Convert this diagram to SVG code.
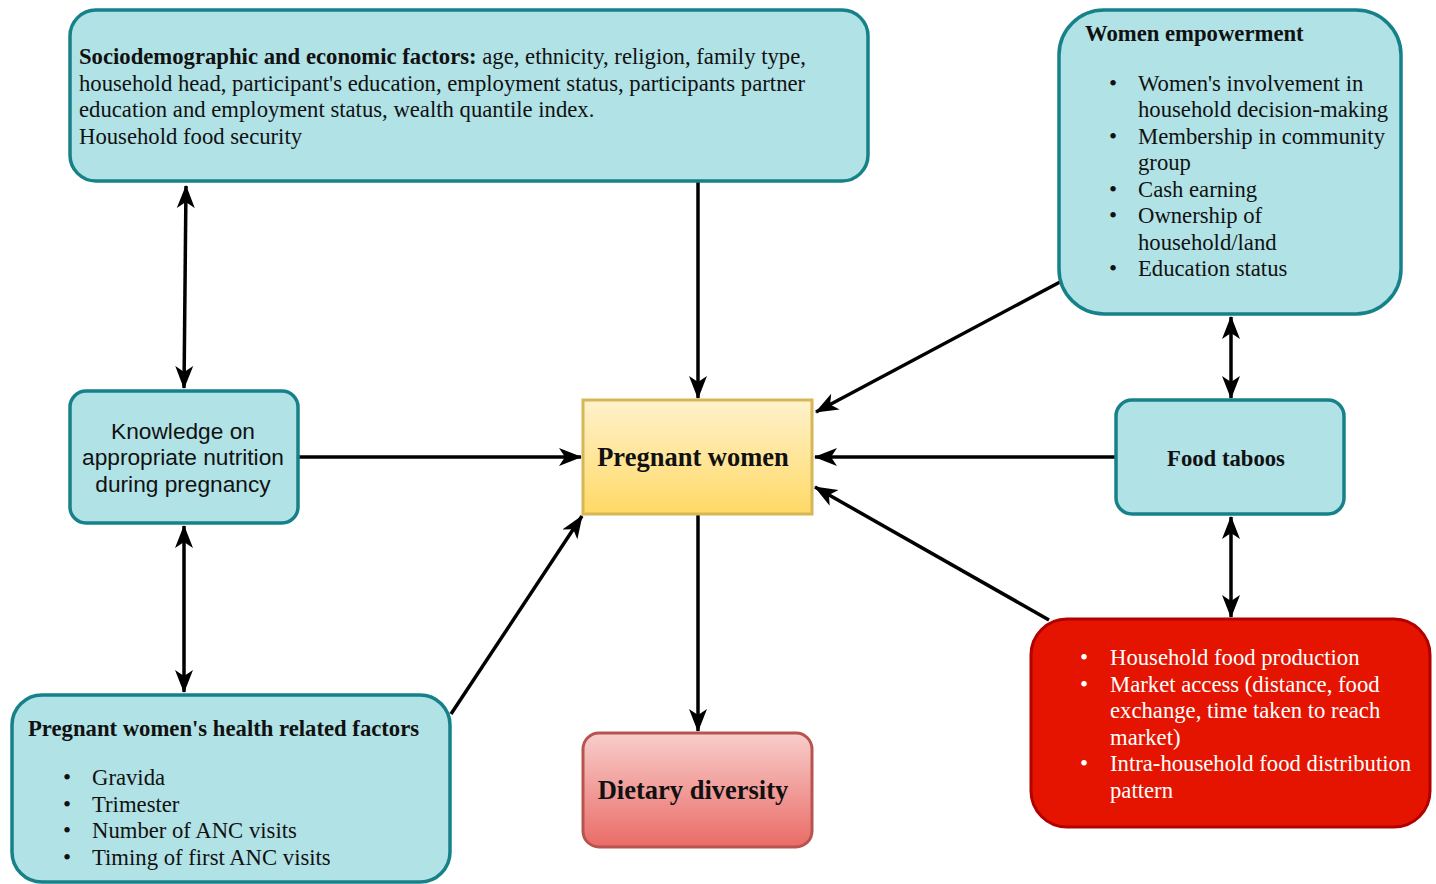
<svg xmlns="http://www.w3.org/2000/svg" width="1436" height="884" viewBox="0 0 1436 884">
<style>
.teal{fill:#b0e2e6;stroke:#17818a;stroke-width:3.5}
.serif{font-family:"Liberation Serif","Times New Roman",serif;font-size:22.7px;fill:#111}
.b{font-weight:bold}
.big{font-size:26.5px}
.bul{font-size:23px}
.sans{font-family:"Liberation Sans",Arial,sans-serif;font-size:22.7px;fill:#111}
.w{fill:#fff}
.edge{stroke:#000;stroke-width:3.5;fill:none}
</style>
<defs>
<marker id="ah" markerUnits="userSpaceOnUse" markerWidth="24" markerHeight="20" refX="22" refY="10" orient="auto-start-reverse" viewBox="0 0 24 20">
<path d="M0,1 L23,10 L0,19 L6,10 Z" fill="#000"/>
</marker>
<linearGradient id="gy" x1="0" y1="0" x2="0" y2="1"><stop offset="0" stop-color="#fff2cc"/><stop offset="1" stop-color="#ffd966"/></linearGradient>
<linearGradient id="gr" x1="0" y1="0" x2="0" y2="1"><stop offset="0" stop-color="#f8cecc"/><stop offset="1" stop-color="#ea6b66"/></linearGradient>
</defs>
<rect width="1436" height="884" fill="#fff"/>
<g id="connectors">
<line class="edge" x1="698" y1="182" x2="698" y2="398" marker-end="url(#ah)"/>
<line class="edge" x1="186" y1="186" x2="184" y2="388" marker-start="url(#ah)" marker-end="url(#ah)"/>
<line class="edge" x1="299" y1="457" x2="581" y2="457" marker-end="url(#ah)"/>
<line class="edge" x1="184" y1="526" x2="184" y2="692" marker-start="url(#ah)" marker-end="url(#ah)"/>
<line class="edge" x1="451" y1="714" x2="582" y2="516" marker-end="url(#ah)"/>
<line class="edge" x1="698" y1="515" x2="698" y2="731" marker-end="url(#ah)"/>
<line class="edge" x1="1060" y1="282" x2="816" y2="412" marker-end="url(#ah)"/>
<line class="edge" x1="1116" y1="457" x2="815" y2="457" marker-end="url(#ah)"/>
<line class="edge" x1="1049" y1="620" x2="815" y2="487" marker-end="url(#ah)"/>
<line class="edge" x1="1231" y1="317" x2="1231" y2="398" marker-start="url(#ah)" marker-end="url(#ah)"/>
<line class="edge" x1="1231" y1="517" x2="1231" y2="617" marker-start="url(#ah)" marker-end="url(#ah)"/>
</g>
<g id="socio">
<rect class="teal" x="70" y="10" width="798" height="171" rx="26"/>
<text class="serif" x="79" y="64"><tspan class="b">Sociodemographic and economic factors:</tspan> age, ethnicity, religion, family type,</text>
<text class="serif" x="79" y="91">household head, participant's education, employment status, participants partner</text>
<text class="serif" x="79" y="117">education and employment status, wealth quantile index.</text>
<text class="serif" x="79" y="144">Household food security</text>
</g>
<g id="empowerment">
<rect class="teal" x="1059" y="10" width="342" height="304" rx="45"/>
<text class="serif b" x="1085" y="41">Women empowerment</text>
<g class="serif">
<text class="bul" x="1109" y="91">•</text><text x="1138" y="91">Women's involvement  in</text>
<text x="1138" y="117">household decision-making</text>
<text class="bul" x="1109" y="144">•</text><text x="1138" y="144">Membership in community</text>
<text x="1138" y="170">group</text>
<text class="bul" x="1109" y="197">•</text><text x="1138" y="197">Cash earning</text>
<text class="bul" x="1109" y="223">•</text><text x="1138" y="223">Ownership of</text>
<text x="1138" y="250">household/land</text>
<text class="bul" x="1109" y="276">•</text><text x="1138" y="276">Education status</text>
</g>
</g>
<g id="knowledge">
<rect class="teal" x="70" y="391" width="228" height="132" rx="16"/>
<g class="sans" text-anchor="middle">
<text x="183" y="439">Knowledge on</text>
<text x="183" y="465">appropriate nutrition</text>
<text x="183" y="492">during pregnancy</text>
</g>
</g>
<g id="pregnant">
<rect x="583" y="400" width="229" height="114" fill="url(#gy)" stroke="#d6b656" stroke-width="3"/>
<text class="serif b big" x="693" y="466" text-anchor="middle">Pregnant women</text>
</g>
<g id="taboos">
<rect class="teal" x="1116" y="400" width="228" height="114" rx="16"/>
<text class="serif b" x="1226" y="466" text-anchor="middle">Food taboos</text>
</g>
<g id="household">
<rect x="1031" y="619" width="399" height="208" rx="36" fill="#e51400" stroke="#b20000" stroke-width="3"/>
<g class="serif w">
<text class="bul w" x="1080" y="665">•</text><text class="w" x="1110" y="665">Household food production</text>
<text class="bul w" x="1080" y="692">•</text><text class="w" x="1110" y="692">Market access (distance, food</text>
<text class="w" x="1110" y="718">exchange, time taken to reach</text>
<text class="w" x="1110" y="745">market)</text>
<text class="bul w" x="1080" y="771">•</text><text class="w" x="1110" y="771">Intra-household food distribution</text>
<text class="w" x="1110" y="798">pattern</text>
</g>
</g>
<g id="health">
<rect class="teal" x="12" y="695" width="438" height="187" rx="30"/>
<text class="serif b" x="28" y="736">Pregnant women's health related factors</text>
<g class="serif">
<text class="bul" x="63" y="785">•</text><text x="92" y="785">Gravida</text>
<text class="bul" x="63" y="812">•</text><text x="92" y="812">Trimester</text>
<text class="bul" x="63" y="838">•</text><text x="92" y="838">Number of ANC visits</text>
<text class="bul" x="63" y="865">•</text><text x="92" y="865">Timing of first ANC visits</text>
</g>
</g>
<g id="dietary">
<rect x="583" y="733" width="229" height="114" rx="16" fill="url(#gr)" stroke="#b85450" stroke-width="3"/>
<text class="serif b big" x="693" y="799" text-anchor="middle">Dietary diversity</text>
</g>
</svg>
